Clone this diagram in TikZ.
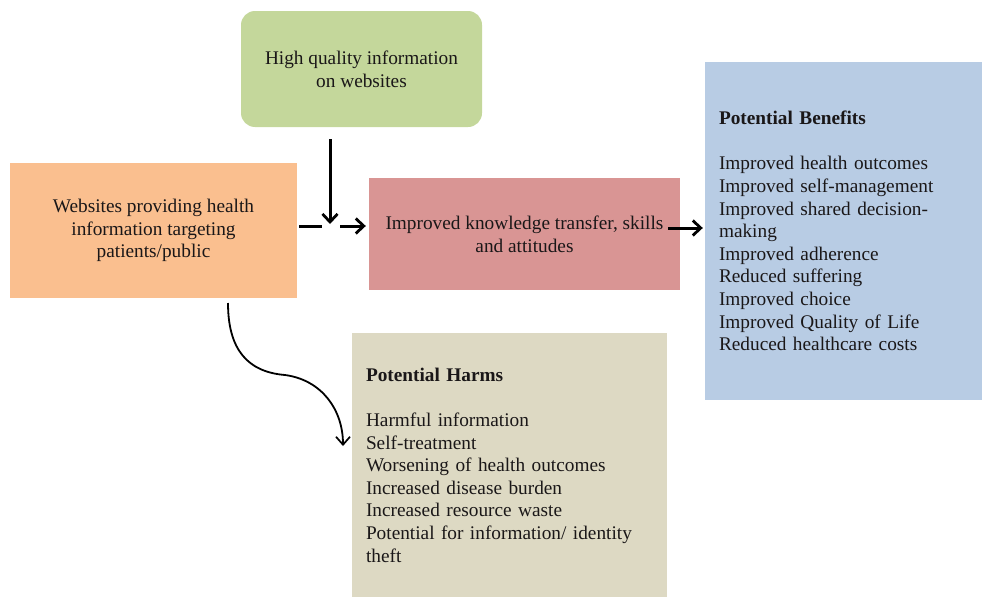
\documentclass[tikz,border=0pt]{standalone}
\usepackage{fontspec}
\setmainfont{Liberation Serif}
\usetikzlibrary{arrows.meta,calc}
\definecolor{cgreen}{HTML}{C4D79B}
\definecolor{corange}{HTML}{FABF8F}
\definecolor{cred}{HTML}{D99594}
\definecolor{cblue}{HTML}{B8CCE4}
\definecolor{ctan}{HTML}{DDD9C3}
\definecolor{ctext}{HTML}{1A1718}
\begin{document}
\begin{tikzpicture}[x=1pt,y=-1pt,
  box/.style={draw=none, inner sep=0pt, text=ctext, font=\fontsize{19.3}{22.6}\selectfont},
  listbox/.style={box, align=left, text width=#1},
  conn/.style={line width=3pt, -{Straight Barb[length=8pt,width=15pt,line width=2.8pt]}},
  curv/.style={line width=1.8pt, -{Straight Barb[length=8pt,width=14pt,line width=1.7pt]}}]
\useasboundingbox (0,0) rectangle (982,597);
\node[box, fill=corange, minimum width=287pt, minimum height=135pt, align=center] (web) at (153.5,230.5)
  {Websites providing health\\information targeting\\patients/public};
\node[box, fill=cgreen, rounded corners=14pt, minimum width=241pt, minimum height=116pt, align=center] (hq) at (361.5,69)
  {High quality information\\on websites};
\node[box, fill=cred, minimum width=311pt, minimum height=112pt, align=center] (ikt) at (524.5,234)
  {Improved knowledge transfer, skills\\and attitudes};
\node[listbox=249pt, fill=cblue, minimum width=277pt, minimum height=338pt, inner xsep=14pt] (ben) at (843.5,231)
  {\textbf{Potential Benefits}\\[22.6pt]
   Improved health outcomes\\
   Improved self-management\\
   Improved shared decision-\\
   making\\
   Improved adherence\\
   Reduced suffering\\
   Improved choice\\
   Improved Quality of Life\\
   Reduced healthcare costs};
\node[listbox=287pt, fill=ctan, minimum width=315pt, minimum height=264pt, inner xsep=14pt] (harm) at (509.5,465)
  {\textbf{Potential Harms}\\[22.6pt]
   Harmful information\\
   Self-treatment\\
   Worsening of health outcomes\\
   Increased disease burden\\
   Increased resource waste\\
   Potential for information/ identity\\
   theft};
\coordinate (j) at (330,224);
\coordinate (r) at ([xshift=-12pt,yshift=6pt]ikt.east);
\coordinate (cs) at (228,303);
\coordinate (ce) at (343,446);
\draw[line width=3pt] ($(web.east |- j)+(2,2)$) -- ($(j)+(-8,2)$);
\draw[conn] ([yshift=-12pt]hq.south -| j) -- (j);
\draw[conn] ($(j)+(10,2)$) -- ($(ikt.west |- j)+(-3,2)$);
\draw[conn] (r) -- ($(r -| ben.west)+(-2,0)$);
\draw[curv] (cs) .. controls (228,350) and (248,372) .. (285,375)
  .. controls (322,380) and (343,410) .. (ce);
\end{tikzpicture}
\end{document}
